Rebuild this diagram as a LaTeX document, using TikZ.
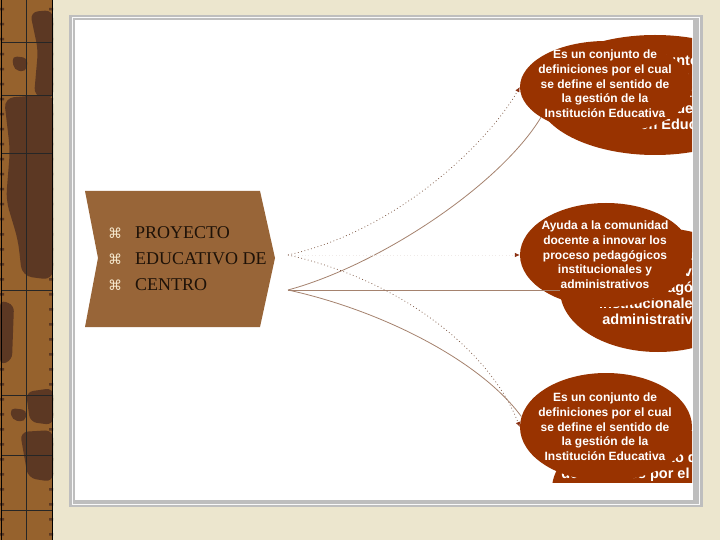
\documentclass[tikz,border=0pt]{standalone}
\usepackage{fontspec}
\setmainfont{Liberation Serif}
\newfontfamily\bubblefont{Liberation Sans}
\newfontfamily\bulletfont{DejaVu Sans}
\usepackage{tikz}
\usetikzlibrary{shapes.geometric,arrows.meta}

\definecolor{pagebeige}{RGB}{236,230,206}
\definecolor{stripbrown}{RGB}{150,98,45}
\definecolor{stripdark}{RGB}{92,56,35}
\definecolor{framegray}{RGB}{190,190,190}
\definecolor{chevronbrown}{RGB}{152,101,56}
\definecolor{pectextcol}{RGB}{30,18,8}
\definecolor{bulletpale}{RGB}{245,232,205}
\definecolor{bubblered}{RGB}{153,51,0}
\definecolor{linebrown}{RGB}{165,130,110}
\definecolor{dotbrown}{RGB}{120,80,60}
\definecolor{tipbrown}{RGB}{140,50,20}

\newcommand{\pecbullet}{{\bulletfont\fontsize{14}{14}\selectfont\textcolor{bulletpale}{⌘}}}

\begin{document}
\begin{tikzpicture}[x=1pt, y=-1pt,
    bubble/.style={ellipse, fill=bubblered, inner sep=0pt},
    fronttext/.style={text=white, align=center, font=\bubblefont\bfseries\fontsize{12}{14.7}\selectfont},
    backtext/.style={text=white, align=center, font=\bubblefont\bfseries\fontsize{14.5}{16}\selectfont},
    pectext/.style={text=pectextcol, align=left, inner sep=0pt, font=\fontsize{18}{26}\selectfont},
    solidline/.style={draw=linebrown, line width=0.8pt},
    dotline/.style={draw=dotbrown, line width=0.7pt, dash pattern=on 0.8pt off 2.6pt,
        -{Latex[length=5pt,width=4.5pt,color=tipbrown]}}]
    \useasboundingbox (0,0) rectangle (720,540);

        %Page
        \fill[pagebeige] (0,0) rectangle (720,540);
        \begin{scope}
            \clip (0,0) rectangle (53,540);
            \fill[stripbrown] (0,0) rectangle (53,540);
            \fill[stripdark, rounded corners=8pt] (30,12) -- (53,10) -- (53,100) -- (34,96) -- (38,50) -- cycle;
            \fill[stripdark, rounded corners=5pt] (12,56) -- (28,58) -- (26,72) -- (14,70) -- cycle;
            \fill[stripdark, rounded corners=10pt] (4,98) -- (53,94) -- (53,280) -- (22,276) -- (18,240) -- (6,200) -- (10,150) -- cycle;
            \fill[stripdark, rounded corners=6pt] (0,300) -- (14,305) -- (12,360) -- (0,365) -- cycle;
            \fill[stripdark, rounded corners=7pt] (26,392) -- (53,388) -- (53,425) -- (30,422) -- cycle;
            \fill[stripdark, rounded corners=5pt] (10,408) -- (27,410) -- (25,422) -- (12,420) -- cycle;
            \fill[stripdark, rounded corners=8pt] (20,432) -- (53,430) -- (53,482) -- (28,478) -- cycle;
            \draw[black!85, line width=0.8pt] (26,0) -- (26,540);
            \foreach \gy in {42,95,153,290,395,455,510}
                \draw[black!85, line width=0.8pt] (2,\gy) -- (52,\gy);
            \foreach \sy in {8,23,...,538}
                \fill[stripdark] (0,\sy) rectangle (4,\sy+2.5) (49,\sy) rectangle (53,\sy+2.5);
        \end{scope}
        \draw[black, line width=1.6pt] (1.5,0) -- (1.5,540);
        \draw[black, line width=1.6pt] (52.5,0) -- (52.5,540);
        \fill[framegray] (69,15) rectangle (703,507);
        \draw[white!90!framegray, line width=0.6pt] (72.5,17.5) rectangle (699,504);
        \fill[white] (75,20) rectangle (693,500);

        %Chevron
        \fill[chevronbrown] (85,191) -- (260,191) -- (275,258) -- (260,327) -- (85,327) -- (98,258) -- cycle;
        \node[pectext, anchor=west] (pec) at (108,259)
            {\pecbullet\hspace{13pt}PROYECTO\\ \pecbullet\hspace{13pt}EDUCATIVO DE\\ \pecbullet\hspace{13pt}CENTRO};
        \coordinate (srcdot) at (288,255);
        \coordinate (srcline) at (288,290);

        %Bubbles
        \begin{scope}
            \clip (75,20) rectangle (692,500);
            \node[bubble, minimum width=236pt, minimum height=120pt] (topback) at (655,95) {};
            \node[backtext] (topbacktxt) at (657,92)
                {Es un conjunto de\\definiciones por el cual\\se define el sentido de\\la gestión de la\\Institución Educativa};
            \node[bubble, minimum width=196pt, minimum height=124pt] (midback) at (658,290) {};
            \node[backtext] (midbacktxt) at (656,287)
                {Ayuda a la comunidad\\docente a innovar los\\proceso pedagógicos\\institucionales y\\administrativos};
            \begin{scope}
                \clip (75,20) rectangle (692,482);
                \node[bubble, minimum width=206pt, minimum height=124pt] (botback) at (655,489) {};
                \node[backtext] (botbacktxt) at (642,489)
                    {Es un conjunto de\\definiciones por el cual\\se define el sentido de\\la gestión de la\\Institución Educativa};
            \end{scope}
            \node[bubble, minimum width=172pt, minimum height=92pt] (topfront) at (606,87) {};
            \node[fronttext] (toptxt) at (605,84)
                {Es un conjunto de\\definiciones por el cual\\se define el sentido de\\la gestión de la\\Institución Educativa};
            \node[bubble, minimum width=172pt, minimum height=104pt] (midfront) at (606,255) {};
            \node[fronttext] (midtxt) at (605,255)
                {Ayuda a la comunidad\\docente a innovar los\\proceso pedagógicos\\institucionales y\\administrativos};
            \node[bubble, minimum width=172pt, minimum height=108pt] (botfront) at (606,427) {};
            \node[fronttext] (bottxt) at (605,427)
                {Es un conjunto de\\definiciones por el cual\\se define el sentido de\\la gestión de la\\Institución Educativa};
        \end{scope}

        %Lines
        \draw[solidline] (srcline) .. controls (380,265) and (500,185) .. (topfront.205);
        \draw[solidline] (srcline) -- (midback.west);
        \draw[solidline] (srcline) .. controls (380,310) and (480,360) .. (botfront.173);

        \draw[dotline] (srcdot) .. controls (400,230) and (490,140) .. (topfront.west);
        \draw[dotline, draw=dotbrown!12] (srcdot) -- (midfront.west);
        \draw[dotline] (srcdot) .. controls (400,280) and (490,350) .. (botfront.west);

    \end{tikzpicture}
\end{document}
